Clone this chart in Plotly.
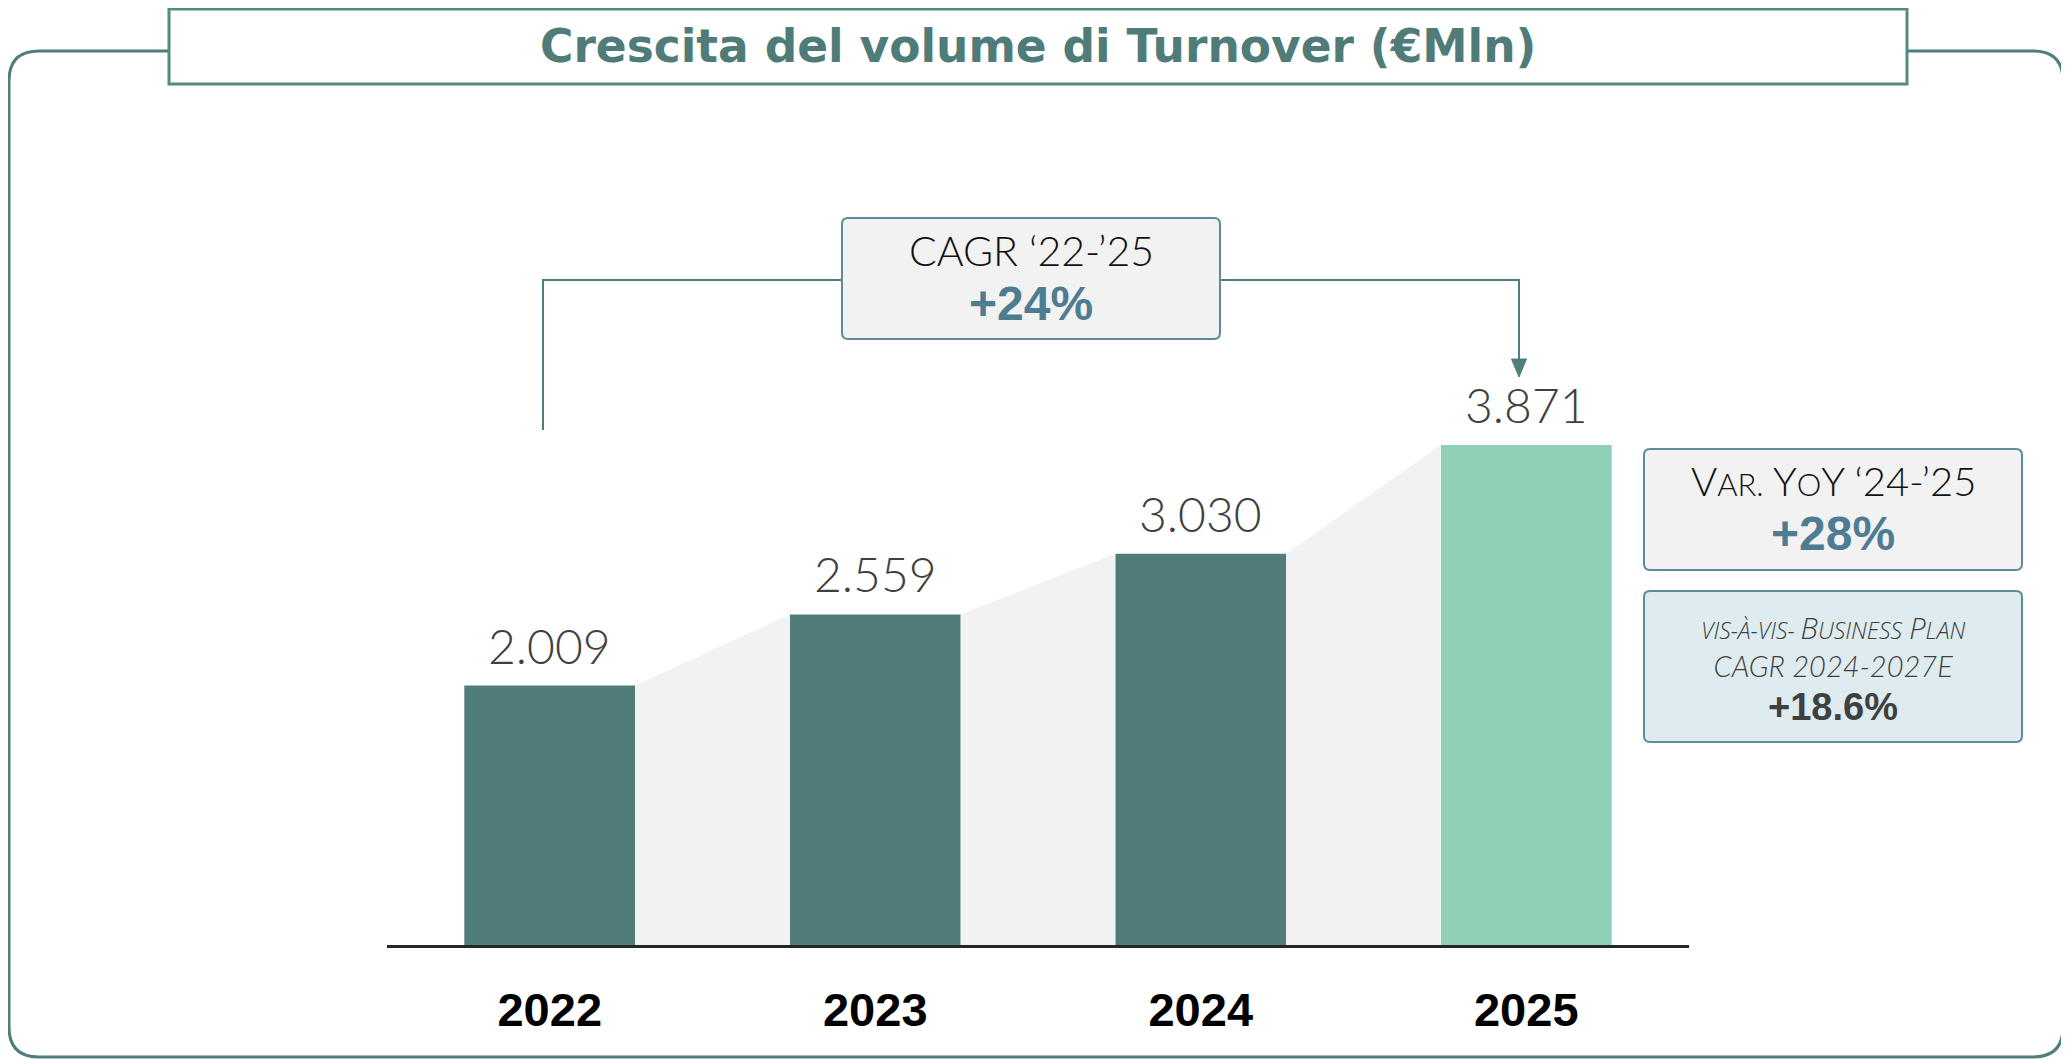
import plotly.graph_objects as go

# ---------------- data ----------------
years = ["2022", "2023", "2024", "2025"]
turnover = [2009, 2559, 3030, 3871]
value_labels = ["2.009", "2.559", "3.030", "3.871"]
title_text = "Crescita del volume di Turnover (€Mln)"
cagr_label = "CAGR ‘22-’25"
cagr_value = "+24%"
yoy_value = "+28%"
bp_value = "+18.6%"

# ---------------- styles ----------------
W, H = 2069, 1060
OFF = 8  # default page body margin
FW, FH = W - OFF, H - OFF
bar_colors = ["#507C7A", "#507C7A", "#507C7A", "#8FD0B7"]
teal = "#4F7F7B"
box_border = "#5D8B9B"
pct_color = "#4E7D91"
grey_fill = "#F2F2F2"
bar_w = 0.525


def X(p):
    return (p - OFF) / FW


def Y(p):
    return 1 - (p - OFF) / FH


def rrect(x0, y0, x1, y1, r):
    return (f"M {X(x0 + r)},{Y(y0)} L {X(x1 - r)},{Y(y0)} Q {X(x1)},{Y(y0)} {X(x1)},{Y(y0 + r)} "
            f"L {X(x1)},{Y(y1 - r)} Q {X(x1)},{Y(y1)} {X(x1 - r)},{Y(y1)} "
            f"L {X(x0 + r)},{Y(y1)} Q {X(x0)},{Y(y1)} {X(x0)},{Y(y1 - r)} "
            f"L {X(x0)},{Y(y0 + r)} Q {X(x0)},{Y(y0)} {X(x0 + r)},{Y(y0)} Z")


xs = list(range(len(years)))

# grey connecting polygons between bars
poly_x, poly_y = [], []
for i in range(len(years) - 1):
    a = xs[i] + bar_w / 2
    b = xs[i + 1] - bar_w / 2
    poly_x += [a, b, b, a, a, None]
    poly_y += [turnover[i], turnover[i + 1], 0, 0, turnover[i], None]

fig = go.Figure()
fig.add_trace(go.Scatter(x=poly_x, y=poly_y, fill="toself", fillcolor=grey_fill,
                         mode="lines", line=dict(width=0, color=grey_fill),
                         hoverinfo="skip", showlegend=False))
fig.add_trace(go.Bar(x=xs, y=turnover, width=bar_w, marker=dict(color=bar_colors, line=dict(width=0)),
                     hoverinfo="skip", showlegend=False))

annotations = []
for i, v in enumerate(turnover):
    annotations.append(dict(x=xs[i], y=v, xref="x", yref="y", text=value_labels[i], showarrow=False,
                            xanchor="center", yanchor="bottom", yshift=10,
                            font=dict(family="Lato", size=48, color="#404040", weight=300)))


def txt(text, cx, cy, size, color, family="Lato", weight=400, style="normal"):
    annotations.append(dict(x=X(cx), y=Y(cy), xref="paper", yref="paper", text=text, showarrow=False,
                            xanchor="center", yanchor="middle",
                            font=dict(family=family, size=size, color=color, weight=weight, style=style)))


txt(title_text, 1038, 46, 45.5, "#4F7C78", family="DejaVu Sans", weight=700)
txt(cagr_label, 1031, 251, 41, "#111111", weight=300)
txt(cagr_value, 1031, 304, 48, pct_color, family="Liberation Sans", weight=700)

sm = "<span style='font-size:31px'>"
txt(f"V{sm}AR.</span> Y{sm}O</span>Y ‘24-’25", 1833, 481, 40, "#111111", weight=300)
txt(yoy_value, 1833, 533, 48, pct_color, family="Liberation Sans", weight=700)

s2 = "<span style='font-family:Open Sans;font-size:23px'>"
b2 = "<span style='font-family:Open Sans;font-size:29px'>"
line1 = f"{s2}VIS-À-VIS- </span>{b2}B</span>{s2}USINESS</span> {b2}P</span>{s2}LAN</span>"
line2 = "CAGR 2024-2027E"
txt(f"<i>{line1}<br>{line2}</i>", 1833, 645, 29, "#404040", weight=300)
txt(bp_value, 1833, 707, 38, "#404040", family="Liberation Sans", weight=700)

shapes = []
# outer rounded frame (open at the title box)
frame = (f"M {X(169)},{Y(51)} L {X(39)},{Y(51)} Q {X(9)},{Y(51)} {X(9)},{Y(81)} "
         f"L {X(9)},{Y(1027)} Q {X(9)},{Y(1057)} {X(39)},{Y(1057)} "
         f"L {X(2033)},{Y(1057)} Q {X(2063)},{Y(1057)} {X(2063)},{Y(1027)} "
         f"L {X(2063)},{Y(81)} Q {X(2063)},{Y(51)} {X(2033)},{Y(51)} L {X(1907)},{Y(51)}")
shapes.append(dict(type="path", path=frame, xref="paper", yref="paper", line=dict(color=teal, width=3)))
shapes.append(dict(type="rect", xref="paper", yref="paper", x0=X(169), x1=X(1907), y0=Y(84), y1=Y(9),
                   line=dict(color="#548C7D", width=3), fillcolor="white"))
# connector
shapes.append(dict(type="path", xref="paper", yref="paper",
                   path=f"M {X(543)},{Y(430)} L {X(543)},{Y(280)} L {X(842)},{Y(280)}",
                   line=dict(color=teal, width=2)))
shapes.append(dict(type="path", xref="paper", yref="paper",
                   path=f"M {X(1220)},{Y(280)} L {X(1519)},{Y(280)} L {X(1519)},{Y(362)}",
                   line=dict(color=teal, width=2)))
shapes.append(dict(type="path", xref="paper", yref="paper",
                   path=f"M {X(1511.5)},{Y(359)} L {X(1526.5)},{Y(359)} L {X(1519)},{Y(377)} Z",
                   line=dict(color=teal, width=1), fillcolor=teal))
# boxes
shapes.append(dict(type="path", xref="paper", yref="paper", path=rrect(842, 218, 1220, 339, 6),
                   line=dict(color=box_border, width=2), fillcolor=grey_fill))
shapes.append(dict(type="path", xref="paper", yref="paper", path=rrect(1644, 449, 2022, 570, 6),
                   line=dict(color=box_border, width=2), fillcolor=grey_fill))
shapes.append(dict(type="path", xref="paper", yref="paper", path=rrect(1644, 591, 2022, 742, 6),
                   line=dict(color=box_border, width=2), fillcolor="#DEEBEF"))

y_top_px = 945 - 5000 * (500 / 3871)
fig.update_layout(
    width=FW, height=FH, margin=dict(l=0, r=0, t=0, b=0),
    paper_bgcolor="white", plot_bgcolor="white", showlegend=False,
    shapes=shapes, annotations=annotations,
    xaxis=dict(domain=[X(387), X(1689)], range=[-0.5, 3.5], tickvals=xs, ticktext=years,
               showgrid=False, zeroline=False, showline=True, linecolor="#262626", linewidth=2.5,
               ticks="", ticklabelstandoff=22,
               tickfont=dict(family="Liberation Sans", size=47, color="black", weight=700)),
    yaxis=dict(domain=[Y(945), Y(y_top_px)], range=[0, 5000], visible=False, showgrid=False, zeroline=False),
)

fig.write_html("out.html")
